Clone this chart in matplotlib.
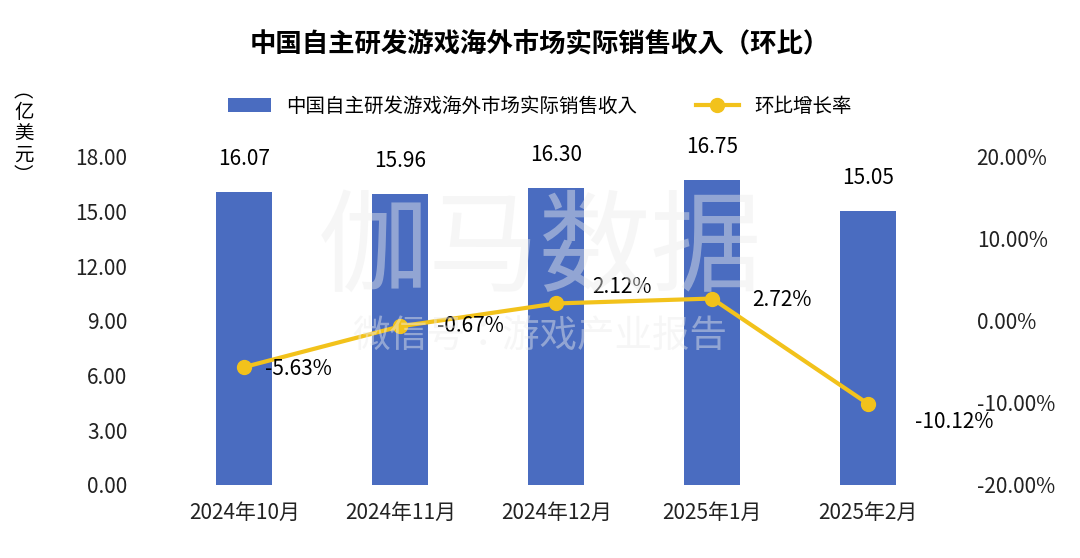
import matplotlib.pyplot as plt

plt.rcParams['font.family'] = ['Noto Sans CJK SC', 'Noto Sans CJK JP',
                               'Noto Sans CJK TC', 'DejaVu Sans']

months = ['2024年10月', '2024年11月', '2024年12月', '2025年1月', '2025年2月']
revenue = [16.07, 15.96, 16.30, 16.75, 15.05]
growth = [-5.63, -0.67, 2.12, 2.72, -10.12]
left_ticks = [0, 3, 6, 9, 12, 15, 18]
right_ticks = [-20, -10, 0, 10, 20]

bar_color = '#4a6cc0'
line_color = '#f2c21b'

fig = plt.figure(figsize=(10.8, 5.58), dpi=100)
ax = fig.add_axes([0.154, 0.131, 0.722, 0.588])
x = range(len(months))
ax.bar(x, revenue, width=0.36, color=bar_color, zorder=2,
       label='中国自主研发游戏海外市场实际销售收入')
ax.set_xlim(-0.5, len(months) - 0.5)
ax.set_ylim(0, 18)
ax.set_yticks(left_ticks)
ax.set_yticklabels(['%.2f' % v for v in left_ticks])
ax.set_xticks(list(x))
ax.set_xticklabels(months)
for s in ax.spines.values():
    s.set_visible(False)
ax.tick_params(length=0, labelsize=15, colors='#222222')
ax.tick_params(axis='x', pad=12)
ax.tick_params(axis='y', pad=28)
for i, v in enumerate(revenue):
    ax.text(i, v + 1.2, '%.2f' % v, ha='center', va='bottom', fontsize=15)

ax2 = ax.twinx()
ax2.set_ylim(-20, 20)
ax2.set_yticks(right_ticks)
ax2.set_yticklabels(['%.2f%%' % v for v in right_ticks])
for s in ax2.spines.values():
    s.set_visible(False)
ax2.tick_params(length=0, labelsize=15, colors='#222222', pad=22)
ax2.plot(list(x), growth, color=line_color, lw=3, marker='o', markersize=10,
         zorder=3, label='环比增长率')
offsets = [(0.35, -0.2), (0.45, 0.0), (0.42, 2.0), (0.45, -0.2), (0.55, -2.2)]
for i, v in enumerate(growth):
    dx, dy = offsets[i]
    ax2.text(i + dx, v + dy, '%.2f%%' % v, ha='center', va='center', fontsize=15)

# watermark
fig.text(0.5, 0.55, '伽马数据', ha='center', va='center', fontsize=80,
         color='#ececec', alpha=0.45, zorder=0)
fig.text(0.5, 0.395, '微信号：游戏产业报告', ha='center', va='center', fontsize=27,
         color='#ececec', alpha=0.45, zorder=0)

fig.text(0.5, 0.92, '中国自主研发游戏海外市场实际销售收入（环比）', ha='center',
         va='center', fontsize=19, fontweight='bold')
fig.text(0.022, 0.76, '︵\n亿\n美\n元\n︶', ha='center', va='center',
         fontsize=14, linespacing=1.0)

h1, l1 = ax.get_legend_handles_labels()
h2, l2 = ax2.get_legend_handles_labels()
fig.legend(h1 + h2, l1 + l2, loc='center', bbox_to_anchor=(0.5, 0.81), ncol=2,
           frameon=False, fontsize=14, handlelength=2.2, columnspacing=3)

plt.savefig('out.png', dpi=100)
